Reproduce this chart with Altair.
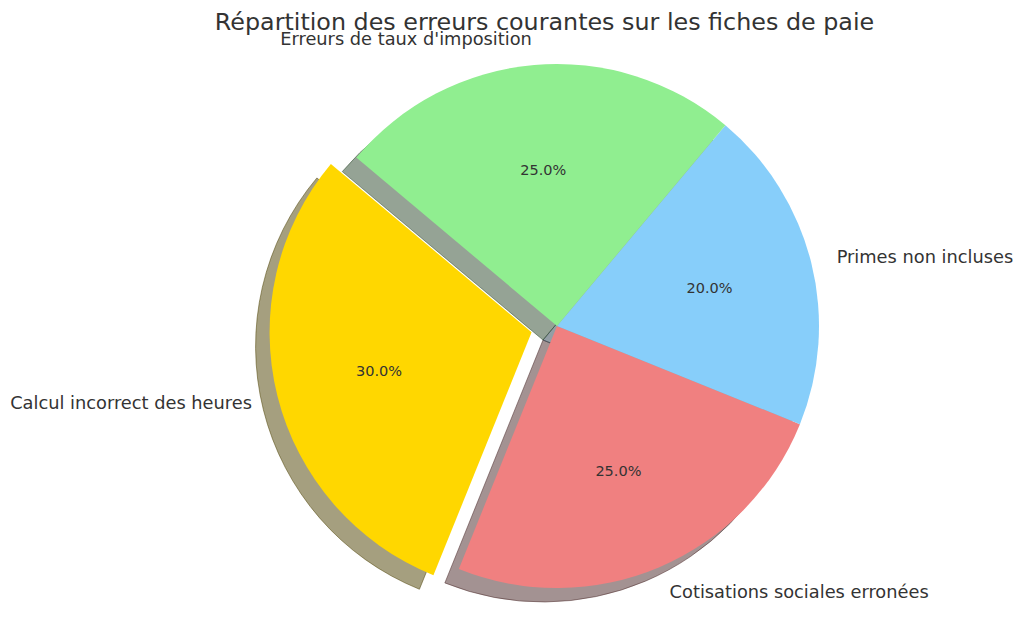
import math
import altair as alt
import pandas as pd

title_text = "Répartition des erreurs courantes sur les fiches de paie"
labels = ["Calcul incorrect des heures", "Cotisations sociales erronées",
          "Primes non incluses", "Erreurs de taux d'imposition"]
values = [30, 25, 20, 25]
colors = ["#FFD700", "#F08080", "#87CEFA", "#90EE90"]
explode = [0.1, 0, 0, 0]


def shade(hex_color, f=0.3):
    r, g, b = (int(hex_color[i:i + 2], 16) for i in (1, 3, 5))
    return "#%02x%02x%02x" % (int(r * f), int(g * f), int(b * f))


shadow_colors = [shade(c) for c in colors]

df = pd.DataFrame({"label": labels, "value": values, "explode": explode,
                   "idx": list(range(len(labels)))})
total = sum(values)

CX, CY, R = 549, 318, 262
START = -50  # degrees, vega convention (0 = top, clockwise)
SDX, SDY = -14, 14
TXT = "#333333"
FONT = "DejaVu Sans"

theta_scale = alt.Scale(domain=[0, total],
                        range=[math.radians(START), math.radians(START - 360)])

base = (
    alt.Chart(df)
    .transform_window(cum="sum(value)", sort=[{"field": "idx"}], frame=[None, 0])
    .transform_calculate(
        v1="datum.cum",
        v0="datum.cum - datum.value",
        mid="datum.cum - datum.value / 2",
    )
    .transform_calculate(
        midrad=f"{math.radians(START)} - datum.mid / {total} * 2 * PI",
    )
    .transform_calculate(
        cx=f"{CX} + datum.explode * {R} * sin(datum.midrad)",
        cy=f"{CY} - datum.explode * {R} * cos(datum.midrad)",
    )
    .transform_calculate(
        sx=f"datum.cx + {SDX}",
        sy=f"datum.cy + {SDY}",
        right="sin(datum.midrad) > 0",
    )
)

shadow = base.mark_arc(radius=R, fillOpacity=0.5, strokeOpacity=0.5, strokeWidth=1).encode(
    x=alt.X("sx:Q", scale=None),
    y=alt.Y("sy:Q", scale=None),
    theta=alt.Theta("v0:Q", scale=theta_scale),
    theta2="v1:Q",
    fill=alt.Fill("label:N", scale=alt.Scale(domain=labels, range=shadow_colors), legend=None),
    stroke=alt.Stroke("label:N", scale=alt.Scale(domain=labels, range=shadow_colors), legend=None),
)

wedges = base.mark_arc(radius=R).encode(
    x=alt.X("cx:Q", scale=None),
    y=alt.Y("cy:Q", scale=None),
    theta=alt.Theta("v0:Q", scale=theta_scale),
    theta2="v1:Q",
    fill=alt.Fill("label:N", scale=alt.Scale(domain=labels, range=colors), legend=None),
)

pct = base.transform_calculate(
    pct="format(datum.value / %d * 100, '.1f') + '%%'" % total
).mark_text(radius=0.6 * R, font=FONT, fontSize=14.5, color=TXT, baseline="middle",
            align="center", dy=1.5).encode(
    x=alt.X("cx:Q", scale=None),
    y=alt.Y("cy:Q", scale=None),
    theta=alt.Theta("mid:Q", scale=theta_scale),
    text="pct:N",
)

lab_right = base.transform_filter("datum.right").mark_text(
    radius=1.1 * R, font=FONT, fontSize=17.8, color=TXT, baseline="middle", align="left", dy=1.5
).encode(
    x=alt.X("cx:Q", scale=None),
    y=alt.Y("cy:Q", scale=None),
    theta=alt.Theta("mid:Q", scale=theta_scale),
    text="label:N",
)

lab_left = base.transform_filter("!datum.right").mark_text(
    radius=1.1 * R, font=FONT, fontSize=17.8, color=TXT, baseline="middle", align="right", dy=1.5
).encode(
    x=alt.X("cx:Q", scale=None),
    y=alt.Y("cy:Q", scale=None),
    theta=alt.Theta("mid:Q", scale=theta_scale),
    text="label:N",
)

title = alt.Chart(pd.DataFrame({"t": [title_text]})).mark_text(
    x=536.5, y=22, font=FONT, fontSize=23.8, color=TXT, baseline="alphabetic", align="center"
).encode(text="t:N")

chart = (
    alt.layer(shadow, wedges, pct, lab_right, lab_left, title)
    .resolve_scale(fill="independent", stroke="independent")
    .properties(width=1008, height=609, padding=0, autosize="none", background="white")
    .configure_view(stroke=None)
)

chart.save("out.html", embed_options={"renderer": "svg", "actions": False})
